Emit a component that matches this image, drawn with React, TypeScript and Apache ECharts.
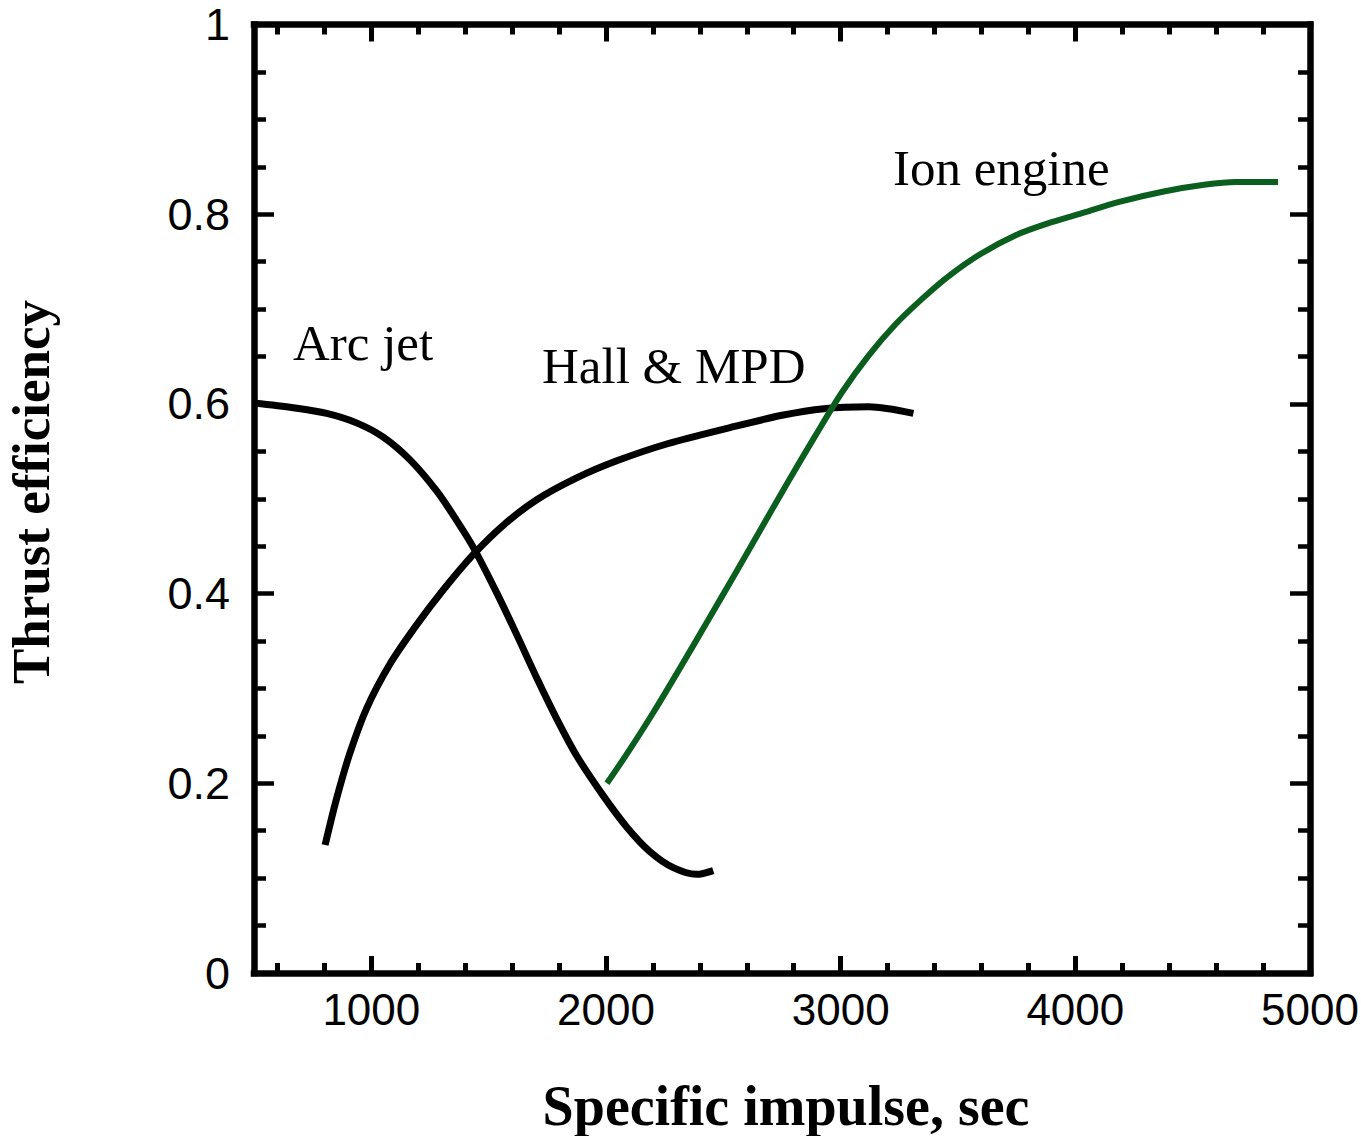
import React, { useEffect, useRef } from "react";
import * as echarts from "echarts";

const xMajorTicks = [1000, 2000, 3000, 4000, 5000];
const xMinorTicks = [600, 800, 1200, 1400, 1600, 1800, 2200, 2400, 2600, 2800, 3200, 3400, 3600, 3800, 4200, 4400, 4600, 4800];

const arcJet: [number, number][] = [
  [500, 0.601], [667, 0.596], [810, 0.59], [937, 0.58], [1051, 0.565], [1165, 0.541],
  [1279, 0.508], [1364, 0.477], [1434, 0.449], [1534, 0.401], [1619, 0.357], [1705, 0.311],
  [1790, 0.268], [1875, 0.229], [1988, 0.187], [2088, 0.154], [2187, 0.128], [2287, 0.111],
  [2386, 0.104], [2457, 0.108],
];

const hallMpd: [number, number][] = [
  [803, 0.135], [852, 0.184], [909, 0.232], [980, 0.279], [1080, 0.326], [1193, 0.367],
  [1307, 0.404], [1434, 0.441], [1562, 0.472], [1705, 0.499], [1875, 0.522], [2046, 0.54],
  [2262, 0.558], [2528, 0.575], [2750, 0.588], [2929, 0.595], [3119, 0.597], [3310, 0.59],
];

const ionEngine: [number, number][] = [
  [2004, 0.2], [2089, 0.231], [2205, 0.276], [2319, 0.323], [2433, 0.371], [2548, 0.42],
  [2662, 0.469], [2776, 0.518], [2891, 0.566], [3005, 0.612], [3119, 0.651], [3234, 0.684],
  [3348, 0.711], [3462, 0.735], [3596, 0.758], [3748, 0.778], [3880, 0.79], [4015, 0.8],
  [4187, 0.813], [4377, 0.824], [4549, 0.831], [4683, 0.834], [4864, 0.834],
];

const xTitle = "Specific impulse, sec";
const yTitle = "Thrust efficiency";
const curveLabels = [
  { text: "Arc jet", x: 293, y: 343 },
  { text: "Hall & MPD", x: 542, y: 366 },
  { text: "Ion engine", x: 893, y: 168 },
];

const AX = { color: "#000", width: 6.5, cap: "square" as const };

export default function App() {
  const ref = useRef<HTMLDivElement>(null);
  useEffect(() => {
    if (!ref.current) return;
    const chart = echarts.init(ref.current, null, { renderer: "svg" });
    const baseX = {
      type: "value",
      min: 500,
      max: 5000,
      gridIndex: 0,
      splitLine: { show: false },
    };
    const baseY = {
      type: "value",
      min: 0,
      max: 1,
      interval: 0.2,
      gridIndex: 0,
      splitLine: { show: false },
      minorSplitLine: { show: false },
      axisLine: { show: true, onZero: false, lineStyle: AX },
      axisTick: { show: true, inside: true, length: 20, lineStyle: { color: "#000", width: 4.5 } },
      minorTick: { show: true, splitNumber: 4, length: 12, lineStyle: { color: "#000", width: 4.5 } },
    };
    const lineCommon = {
      type: "line",
      smooth: 0.3,
      showSymbol: false,
      symbol: "none",
      xAxisIndex: 0,
      yAxisIndex: 0,
    };
    chart.setOption({
      animation: false,
      backgroundColor: "#fff",
      grid: { left: 254, right: 51, top: 24.5, bottom: 163, containLabel: false, outerBoundsMode: "none" },
      xAxis: [
        {
          ...baseX,
          position: "bottom",
          axisLine: { show: true, onZero: false, lineStyle: AX },
          axisTick: { show: true, inside: true, length: 17, customValues: xMajorTicks, lineStyle: { color: "#000", width: 5 } },
          axisLabel: {
            show: true,
            customValues: xMajorTicks,
            margin: 14,
            fontSize: 44,
            fontFamily: "Liberation Sans",
            color: "#000",
            showMaxLabel: true,
            showMinLabel: true,
            formatter: (v: number) => String(v),
          },
        },
        {
          ...baseX,
          position: "bottom",
          axisLine: { show: false, onZero: false },
          axisTick: { show: true, inside: true, length: 10, customValues: xMinorTicks, lineStyle: { color: "#000", width: 5 } },
          axisLabel: { show: false },
        },
        {
          ...baseX,
          position: "top",
          axisLine: { show: true, onZero: false, lineStyle: AX },
          axisTick: { show: true, inside: true, length: 17, customValues: xMajorTicks, lineStyle: { color: "#000", width: 5 } },
          axisLabel: { show: false },
        },
        {
          ...baseX,
          position: "top",
          axisLine: { show: false, onZero: false },
          axisTick: { show: true, inside: true, length: 10, customValues: xMinorTicks, lineStyle: { color: "#000", width: 5 } },
          axisLabel: { show: false },
        },
      ],
      yAxis: [
        {
          ...baseY,
          position: "left",
          axisLabel: {
            show: true,
            margin: 24,
            fontSize: 45,
            fontFamily: "Liberation Sans",
            color: "#000",
            showMaxLabel: true,
            showMinLabel: true,
            formatter: (v: number) => (v === 0 ? "0" : v === 1 ? "1" : v.toFixed(1)),
          },
        },
        {
          ...baseY,
          position: "right",
          axisLabel: { show: false },
        },
      ],
      series: [
        { ...lineCommon, name: "Arc jet", data: arcJet, lineStyle: { color: "#000", width: 7 } },
        { ...lineCommon, name: "Hall & MPD", data: hallMpd, lineStyle: { color: "#000", width: 7 } },
        { ...lineCommon, name: "Ion engine", data: ionEngine, lineStyle: { color: "#0a5e1e", width: 6 } },
      ],
      graphic: [
        ...curveLabels.map((c) => ({
          type: "text",
          x: c.x,
          y: c.y,
          style: {
            text: c.text,
            fontSize: 51,
            fontFamily: "Liberation Serif",
            fill: "#000",
            align: "left",
            verticalAlign: "middle",
          },
        })),
        {
          type: "text",
          x: 786,
          y: 1134,
          style: {
            text: xTitle,
            fontSize: 56,
            fontWeight: "bold",
            fontFamily: "Liberation Serif",
            fill: "#000",
            align: "center",
            verticalAlign: "bottom",
          },
        },
        {
          type: "text",
          x: 31,
          y: 492,
          rotation: Math.PI / 2,
          style: {
            text: yTitle,
            fontSize: 53,
            fontWeight: "bold",
            fontFamily: "Liberation Serif",
            fill: "#000",
            align: "center",
            verticalAlign: "middle",
          },
        },
      ],
    });
    return () => chart.dispose();
  }, []);
  return (
    <div
      ref={ref}
      style={{ position: "absolute", left: 0, top: 0, width: 1361, height: 1136 }}
    />
  );
}
